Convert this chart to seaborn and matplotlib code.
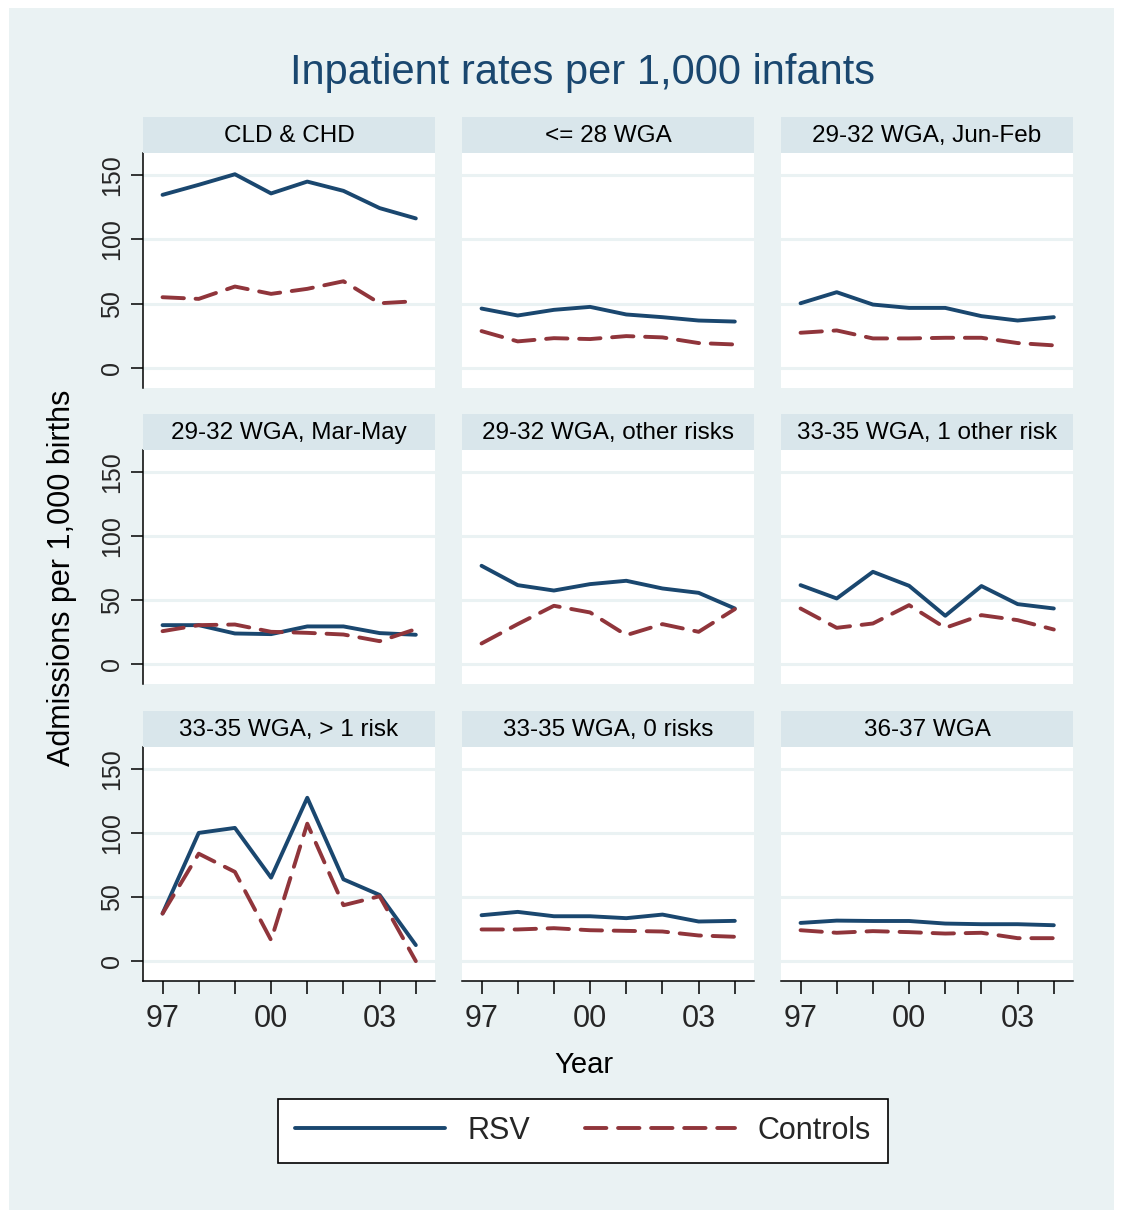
import matplotlib
matplotlib.use("Agg")
import matplotlib.pyplot as plt
import seaborn as sns
import pandas as pd
from matplotlib.patches import Rectangle
from matplotlib.lines import Line2D

sns.set_theme(style="white")
plt.rcParams['font.family'] = ['Liberation Sans', 'DejaVu Sans']

years = [1997, 1998, 1999, 2000, 2001, 2002, 2003, 2004]
panels = ["CLD & CHD", "<= 28 WGA", "29-32 WGA, Jun-Feb",
          "29-32 WGA, Mar-May", "29-32 WGA, other risks", "33-35 WGA, 1 other risk",
          "33-35 WGA, > 1 risk", "33-35 WGA, 0 risks", "36-37 WGA"]

rsv_cld = [134.5, 142.3, 150.5, 135.6, 144.8, 137.6, 124.2, 116.2]
ctl_cld = [55.0, 53.7, 63.3, 57.6, 61.5, 67.4, 50.3, 51.9]
rsv_le28 = [46.2, 40.8, 45.2, 47.5, 41.6, 39.5, 36.9, 36.1]
ctl_le28 = [28.7, 20.7, 23.2, 22.5, 24.8, 23.8, 19.4, 18.3]
rsv_jf = [50.3, 58.9, 49.3, 46.7, 46.7, 40.3, 36.9, 39.5]
ctl_jf = [27.4, 29.2, 23.0, 23.0, 23.5, 23.5, 19.4, 17.6]
rsv_mm = [30.4, 30.4, 23.9, 23.4, 29.4, 29.4, 24.2, 22.9]
ctl_mm = [25.7, 30.4, 30.9, 25.2, 24.4, 23.1, 17.9, 27.3]
rsv_or = [76.7, 61.6, 57.4, 62.4, 65.0, 59.0, 55.6, 43.4]
ctl_or = [16.1, 31.2, 45.5, 40.3, 22.6, 31.2, 25.2, 42.9]
rsv_1r = [61.6, 51.2, 72.0, 61.1, 37.7, 60.9, 46.8, 43.4]
ctl_1r = [43.4, 28.3, 31.7, 46.0, 28.3, 38.2, 34.3, 27.0]
rsv_gt1 = [37.1, 100.0, 103.9, 65.1, 127.4, 63.8, 51.6, 12.5]
ctl_gt1 = [37.1, 83.8, 69.6, 16.4, 107.2, 43.6, 50.6, 0.0]
rsv_0r = [35.8, 38.4, 35.0, 35.0, 33.5, 36.3, 30.9, 31.4]
ctl_0r = [24.7, 24.7, 25.7, 24.1, 23.6, 23.1, 20.0, 19.0]
rsv_3637 = [29.8, 31.6, 31.3, 31.3, 29.3, 28.8, 28.8, 28.0]
ctl_3637 = [24.1, 22.1, 23.4, 22.6, 21.5, 22.1, 17.9, 17.9]

rsv_all = [rsv_cld, rsv_le28, rsv_jf, rsv_mm, rsv_or, rsv_1r, rsv_gt1, rsv_0r, rsv_3637]
ctl_all = [ctl_cld, ctl_le28, ctl_jf, ctl_mm, ctl_or, ctl_1r, ctl_gt1, ctl_0r, ctl_3637]

xtick_vals = [1997, 2000, 2003]
xtick_labels = ["97", "00", "03"]
yticks = [0, 50, 100, 150]

rows = []
for p, r, c in zip(panels, rsv_all, ctl_all):
    for y, v in zip(years, r):
        rows.append((p, y, v, "RSV"))
    for y, v in zip(years, c):
        rows.append((p, y, v, "Controls"))
df = pd.DataFrame(rows, columns=["panel", "year", "rate", "series"])

W, H = 1123, 1218
NAVY = "#1A476F"
MAROON = "#90353B"
BG = "#EAF2F3"
STRIP = "#D9E6EB"
LW = 2.8

fig = plt.figure(figsize=(W / 100, H / 100), dpi=100, facecolor="white")
fig.patches.append(Rectangle((9 / W, 8 / H), (1114 - 9) / W, (1210 - 8) / H,
                             transform=fig.transFigure, facecolor=BG,
                             edgecolor="none", zorder=-10))

col_left = [143, 462, 781]
col_w = 292
plot_top = [153, 450, 747]
plot_bot = [388, 684, 981]
strip_top = [117, 414, 711]

palette = {"RSV": NAVY, "Controls": MAROON}
dashes = {"RSV": "", "Controls": (5.5, 3.0)}

for i, p in enumerate(panels):
    r, c = divmod(i, 3)
    ax = fig.add_axes([col_left[c] / W, 1 - plot_bot[r] / H, col_w / W,
                       (plot_bot[r] - plot_top[r]) / H])
    ax.set_facecolor("white")
    sub = df[df.panel == p]
    sns.lineplot(data=sub, x="year", y="rate", hue="series", style="series",
                 palette=palette, dashes=dashes, linewidth=LW, ax=ax,
                 legend=False, hue_order=["RSV", "Controls"],
                 style_order=["RSV", "Controls"])
    for ln in ax.lines:
        ln.set_dash_capstyle("round")
        ln.set_solid_capstyle("round")
        ln.set_solid_joinstyle("round")
    ax.set_xlim(1996.46, 2004.53)
    ax.set_ylim(-15.5, 167)
    ax.set_yticks(yticks)
    ax.set_xticks(years)
    ax.yaxis.grid(True, color=BG, linewidth=2.2)
    ax.set_axisbelow(True)
    ax.set_xlabel("")
    ax.set_ylabel("")
    for s in ["top", "right"]:
        ax.spines[s].set_visible(False)
    ax.spines["left"].set_visible(c == 0)
    ax.spines["bottom"].set_visible(r == 2)
    for s in ["left", "bottom"]:
        ax.spines[s].set_color("black")
        ax.spines[s].set_linewidth(1.1)
    if c == 0:
        ax.tick_params(axis="y", left=True, length=8.5, width=1.1, color="black",
                       labelsize=18, pad=5, labelrotation=90)
        for t in ax.get_yticklabels():
            t.set_verticalalignment("center")
    else:
        ax.tick_params(axis="y", left=False, labelleft=False)
    if r == 2:
        ax.set_xticklabels([xtick_labels[xtick_vals.index(y)] if y in xtick_vals else ""
                            for y in years])
        ax.tick_params(axis="x", bottom=True, length=9.5, width=1.1, color="black",
                       labelsize=22, pad=7)
    else:
        ax.tick_params(axis="x", bottom=False, labelbottom=False)

    sax = fig.add_axes([col_left[c] / W, 1 - plot_top[r] / H, col_w / W,
                        (plot_top[r] - strip_top[r]) / H])
    sax.set_facecolor(STRIP)
    sax.set_xticks([])
    sax.set_yticks([])
    for s in sax.spines.values():
        s.set_visible(False)
    sax.text(0.5, 0.47, p, ha="center", va="center", fontsize=17.5, color="black",
             transform=sax.transAxes)

fig.text(583 / W, 1 - 73 / H, "Inpatient rates per 1,000 infants", ha="center",
         va="center", fontsize=30, color=NAVY)
fig.text(62 / W, 1 - 578 / H, "Admissions per 1,000 births", ha="center",
         va="center", rotation=90, fontsize=22, color="black")
fig.text(584 / W, 1 - 1065 / H, "Year", ha="center", va="center", fontsize=21,
         color="black")

handles = [Line2D([], [], color=NAVY, linewidth=LW, solid_capstyle="round"),
           Line2D([], [], color=MAROON, linewidth=LW, linestyle=(0, (5.5, 3.0)),
                  dash_capstyle="round")]
leg = fig.legend(handles, ["RSV", "Controls"], loc="center",
                 bbox_to_anchor=(583 / W, 1 - 1131 / H), ncol=2, fontsize=22,
                 frameon=True, fancybox=False, framealpha=1, handlelength=4.9,
                 handletextpad=0.75, columnspacing=1.8, borderpad=0.55)
leg.get_frame().set_edgecolor("black")
leg.get_frame().set_linewidth(1.2)
leg.get_frame().set_facecolor("white")

fig.savefig("out.png", dpi=100, facecolor="white")
